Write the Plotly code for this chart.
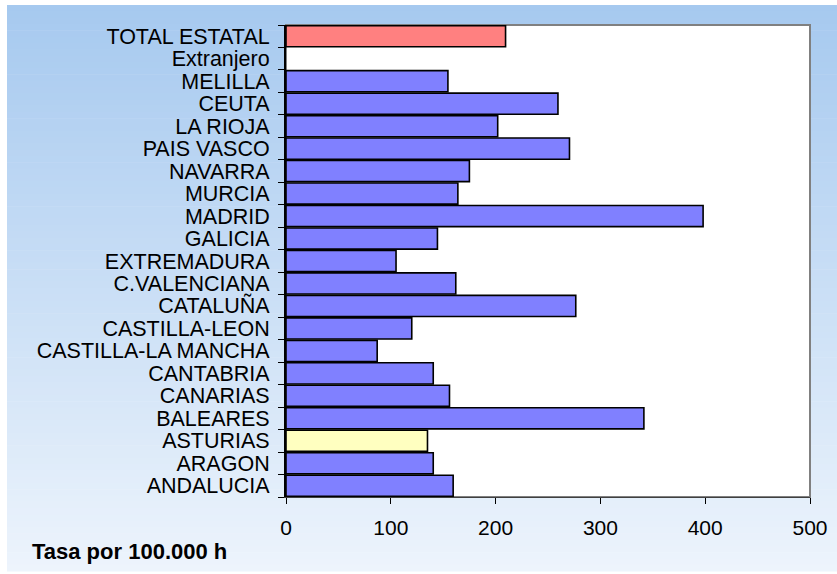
import plotly.graph_objects as go

# ---- data (bottom to top) ----
regions = ["ANDALUCIA", "ARAGON", "ASTURIAS", "BALEARES", "CANARIAS", "CANTABRIA",
           "CASTILLA-LA MANCHA", "CASTILLA-LEON", "CATALUÑA", "C.VALENCIANA",
           "EXTREMADURA", "GALICIA", "MADRID", "MURCIA", "NAVARRA", "PAIS VASCO",
           "LA RIOJA", "CEUTA", "MELILLA", "Extranjero", "TOTAL ESTATAL"]
rates = [159.5, 140.5, 135, 341.5, 156, 140.5,
         87, 120, 276.5, 162,
         105, 144.5, 398, 164, 175, 270.5,
         202, 259.5, 154.5, None, 209.5]
x_ticks = [0, 100, 200, 300, 400, 500]
x_title = "Tasa por 100.000 h"

base_color = "#8080FF"
special = {"TOTAL ESTATAL": "#FF8080", "ASTURIAS": "#FFFFC0"}
colors = [special.get(r, base_color) for r in regions]

FONT = "Liberation Sans, Arial, sans-serif"
W, H = 837, 574
L, R, T, B = 286, 810, 25, 497
pw, ph = R - L, B - T

def px_to_paper_x(px):
    return (px - L) / pw

def px_to_paper_y(py):
    return (B - py) / ph

fig = go.Figure(go.Bar(
    x=rates, y=regions, orientation="h",
    marker=dict(color=colors, line=dict(color="black", width=1.6)),
    hoverinfo="x+y",
))

# gradient background strips
shapes = []
top_c = (166, 201, 239)
bot_c = (237, 244, 252)
y0px, y1px = 5, 571
n = 90
for i in range(n):
    f = (i + 0.5) / n
    c = tuple(round(top_c[k] + (bot_c[k] - top_c[k]) * f) for k in range(3))
    ya = y0px + (y1px - y0px) * i / n
    yb = y0px + (y1px - y0px) * (i + 1) / n + 0.6
    shapes.append(dict(type="rect", xref="paper", yref="paper", layer="below",
                       x0=px_to_paper_x(7), x1=px_to_paper_x(W + 2),
                       y0=px_to_paper_y(ya), y1=px_to_paper_y(yb),
                       fillcolor="rgb(%d,%d,%d)" % c, line=dict(width=0)))
# plot area (white with grey frame)
shapes.append(dict(type="rect", xref="paper", yref="paper", layer="below",
                   x0=0, x1=1, y0=0, y1=1, fillcolor="white",
                   line=dict(color="#808080", width=2)))

fig.update_layout(
    width=W, height=H,
    margin=dict(l=L, r=W - R, t=T, b=H - B),
    paper_bgcolor="white", plot_bgcolor="white",
    font=dict(family=FONT, size=21, color="black"),
    bargap=0.06,
    showlegend=False,
    shapes=shapes,
    xaxis=dict(range=[0, 500], tickvals=x_ticks, ticks="outside", ticklen=6,
               tickcolor="black", showgrid=False, zeroline=False,
               showline=True, linecolor="#404040", linewidth=1,
               tickfont=dict(family=FONT, size=21), ticklabelstandoff=6,
               automargin=False, fixedrange=True),
    yaxis=dict(type="category", categoryorder="array", categoryarray=regions,
               tickmode="array", tickvals=regions, ticktext=regions,
               ticks="outside", tickson="boundaries", ticklen=6, tickcolor="black",
               showgrid=False, zeroline=False, showline=True, linecolor="black",
               linewidth=2, tickfont=dict(family=FONT, size=21.5),
               ticklabelstandoff=10, automargin=False, fixedrange=True),
    annotations=[dict(text="<b>" + x_title + "</b>", xref="paper", yref="paper",
                      x=px_to_paper_x(30), y=px_to_paper_y(551),
                      xanchor="left", yanchor="middle", showarrow=False,
                      font=dict(family=FONT, size=22, color="black"))],
)

fig.write_html("out.html", config={"displayModeBar": False},
               post_script="document.body.style.margin='0';")
